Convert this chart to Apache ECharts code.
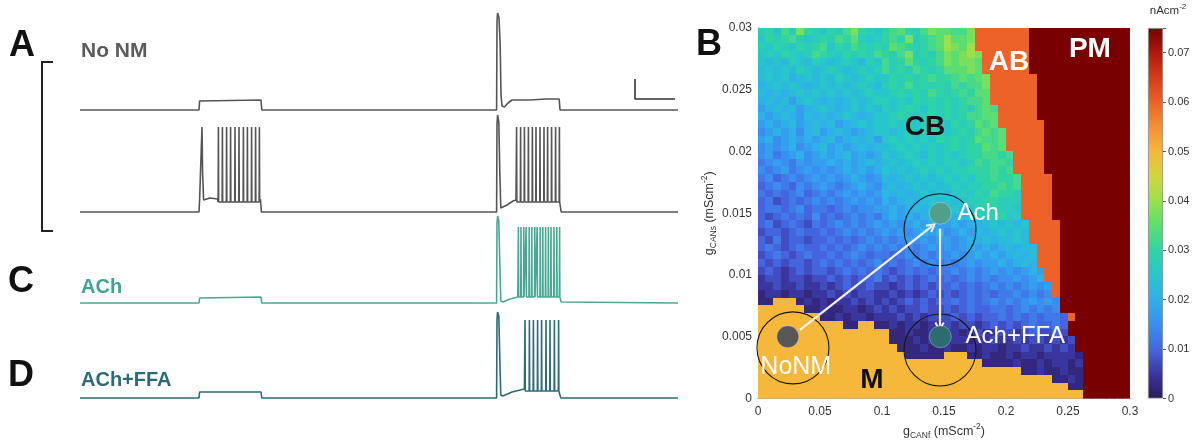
<!DOCTYPE html>
<html><head><meta charset="utf-8">
<script src="https://cdn.jsdelivr.net/npm/echarts@6.0.0/dist/echarts.min.js"></script>
<style>html,body{margin:0;padding:0;background:#fff}#c{width:1200px;height:440px}</style>
</head><body><div id="c"></div>
<script>
// ---------------- DATA ----------------
// Heatmap (panel B): 48 x 48 cells, rows listed top (gCANs high) to bottom.
// 'P' = PM region, 'A' = AB region, 'M' = M region, digits/letters = CB level (x 0.0025 nAcm^-2)
const heatRows = [
"bcadbfcb acbdfcba cdecbdfe eddfAAAA AAAPPPPP PPPPPPPP",
"acbcdbab cbdcebab cdcfbcde geefAAAA AAAPPPPP PPPPPPPP",
"bacbacbc dacbdcbc bedcbcde gfegAAAA AAAPPPPP PPPPPPPP",
"abacbabd cbacbcbd cbdfbcbd fefgfAAA AAAPPPPP PPPPPPPP",
"a9a9ba9b a9aba9ba dbcecbcd feffeAAA AAAPPPPP PPPPPPPP",
"9a9a9ba9 aba9abab dbcbdcbc eeefeAAA AAAPPPPP PPPPPPPP",
"9a9a89a9 a9ba9aba acbcbcdc cdedefAA AAAAPPPP PPPPPPPP",
"89a9a989 a9a9aba9 bcbdbcbc bdcddfAA AAAAPPPP PPPPPPPP",
"98989a9a 9a9a9aba abcbcbdc bcdceeAA AAAAPPPP PPPPPPPP",
"898979a9 8989a9ab babacbcb cbcddeAA AAAAPPPP PPPPPPPP",
"78989789 a989a9a9 babcbacb cbcbdedA AAAAPPPP PPPPPPPP",
"87898798 989a989a abcbabcb cbcddeeA AAAAPPPP PPPPPPPP",
"78789789 89789a9a abababcb acbcedeA AAAAAPPP PPPPPPPP",
"67878689 7898789a a9ababcb abcbdede AAAAAPPP PPPPPPPP",
"78678787 89789897 abababac bcbcedde AAAAAPPP PPPPPPPP",
"67678678 97878989 9abababa bcbccede AAAAAPPP PPPPPPPP",
"67567867 87897878 a9aba9ba babccddc dAAAAPPP PPPPPPPP",
"56765767 78787898 9a9ababa bbabdcdd cAAAAPPP PPPPPPPP",
"65675676 76787878 a9a9abab abbcccdc dAAAAPPP PPPPPPPP",
"56456567 67678767 989a9a9a babaccdc cdAAAAPP PPPPPPPP",
"45654656 76567876 8989a9a9 ababbccd cdAAAAPP PPPPPPPP",
"54545645 65676767 98989a9a 9abacbdc cbAAAAPP PPPPPPPP",
"45345456 56567676 878989a9 a9abbccb bbAAAAPP PPPPPPPP",
"45545645 54565667 78789898 9a9acbcb baAAAAPP PPPPPPPP",
"43454546 45456565 78787898 989abbbc abAAAAPP PPPPPPPP",
"45345435 45656567 67678787 787889a9 a9aAAAAP PPPPPPPP",
"34434544 54565656 76767878 6787989a 9a9AAAAP PPPPPPPP",
"43534434 45454565 65676767 76788989 9a9AAAAP PPPPPPPP",
"45434544 54545656 56565676 76787878 9899AAAP PPPPPPPP",
"34543454 45456545 54565656 67678787 8989AAAP PPPPPPPP",
"43434434 54545456 45456565 65676778 7898AAAP PPPPPPPP",
"34323434 43454545 43454545 56565676 76787AAP PPPPPPPP",
"23323323 34343445 34343454 54565656 67678AAP PPPPPPPP",
"22322322 32343343 32343434 45454565 656767AP PPPPPPPP",
"12212212 23232332 23232343 43454545 565656AP PPPPPPPP",
"11MMM121 21223232 32343434 45454565 6567676P PPPPPPPP",
"MMMMMM11 21122123 23233433 43454455 4565656P PPPPPPPP",
"MMMMMMMM 11212212 22323233 34343445 45454554 APPPPPPP",
"MMMMMMMM MMM11MM1 12122122 32332343 43454454 PPPPPPPP",
"MMMMMMMM MMMMMMMM M1121121 22123223 32343343 PPPPPPPP",
"MMMMMMMM MMMMMMMM M1112121 12212232 23233232 3PPPPPPP",
"MMMMMMMM MMMMMMMM MM111211 21121221 22322323 2PPPPPPP",
"MMMMMMMM MMMMMMMM MMM11111 MMM11211 21221222 21PPPPPP",
"MMMMMMMM MMMMMMMM MMMMMMMM MMMMM111 12112122 12PPPPPP",
"MMMMMMMM MMMMMMMM MMMMMMMM MMMMMMMM MM112112 11PPPPPP",
"MMMMMMMM MMMMMMMM MMMMMMMM MMMMMMMM MMMMMM11 21PPPPPP",
"MMMMMMMM MMMMMMMM MMMMMMMM MMMMMMMM MMMMMMMM 11PPPPPP",
"MMMMMMMM MMMMMMMM MMMMMMMM MMMMMMMM MMMMMMMM MMPPPPPP"
];
const regionValue = {M: 0.05, A: 0.06, P: 0.075};
const cbStep = 0.0025;
const gCANfRange = [0, 0.3];
const gCANsRange = [0, 0.03];
const colorbarRange = [0, 0.075];
const cmap = ['#2d1a5a','#3a36a0','#4565e0','#3a8ef0','#2eb0e8','#27c6cc','#30d4a4','#5ade72',
              '#9be04a','#d2d63a','#f5b83a','#f59030','#ec6228','#d83a1a','#b01810','#780000'];

// Conditions (points), their rings and arrows, in (gCANf, gCANs)
const condNames = ['NoNM', 'Ach', 'Ach+FFA'];
const condX = [0.024, 0.147, 0.147];
const condY = [0.005, 0.015, 0.005];
const ringX = [0.0282, 0.1468, 0.1468];
const ringY = [0.0041, 0.01366, 0.00393];
const arrowFrom = [[0.0339, 0.00555], [0.1464, 0.01374]];
const arrowTo   = [[0.1403, 0.01395], [0.1464, 0.0058]];
const regionNames = ['CB', 'AB', 'PM', 'M'];
const regionX = [0.1347, 0.2024, 0.2677, 0.0919];
const regionY = [0.02197, 0.0272, 0.0283, 0.0015];

// Voltage traces (time ms, membrane potential mV)
const traceNoNM1 = [[0,-70],[595,-70],[598,-61],[905,-60],[909,-70],[2083,-70],[2085,18],[2088,27],[2095,22],
  [2101,-5],[2105,-55],[2110,-66],[2122,-67],[2140,-63],[2160,-60],[2250,-60],[2330,-59],[2396,-59],[2400,-70],[2990,-70]];
const noNM2Pre = [[0,-70],[595,-70],[598,-58],[608,-56],[610,15],[613,-30],[618,-58],[650,-56],[688,-57]];
const noNM2Burst1 = [692,712,733,753,775,795,817,837,858,878,897];
const noNM2Mid = [[902,-57],[907,-70],[2083,-70],[2085,18],[2088,27],[2094,20],[2099,-30],[2104,-66],[2112,-68],[2135,-63],[2165,-59],[2180,-58]];
const noNM2Burst2 = [2183,2203,2222,2242,2262,2280,2300,2320,2338,2358,2378,2397];
const noNM2Post = [[2402,-58],[2406,-70],[2990,-70]];
const noNM2Spike = [15, -60];

const achPre = [[0,-70],[595,-70],[598,-65],[905,-64],[909,-70],[2083,-70],[2085,10],[2088,17],[2094,12],[2099,-30],[2104,-68],[2115,-69],[2150,-66],[2189,-64]];
const achBurst = [2192,2205,2219,2231,2246,2259,2274,2286,2301,2314,2328,2342,2355,2370,2384,2398];
const achPost = [[2402,-66],[2406,-69],[2990,-70]];
const achSpike = [6, -64];

const ffaPre = [[0,-70],[595,-70],[598,-64],[905,-64],[909,-70],[2083,-70],[2085,8],[2088,16],[2094,12],[2099,-30],[2104,-67],[2115,-68],[2160,-64],[2222,-61]];
const ffaBurst = [2225,2247,2267,2288,2308,2330,2350,2372,2393];
const ffaPost = [[2399,-62],[2404,-70],[2990,-70]];
const ffaSpike = [8, -63];

const scaleBarPts = [[2775,-39],[2775,-59],[2975,-59]];
const timeRange = [0, 2990];
const vRange = [-80, 30];

// ---------------- BUILD ----------------
function train(times, sp) {
  const out = [];
  times.forEach(t => { out.push([t-1.2, sp[1]], [t, sp[0]], [t+1.2, sp[1]]); });
  return out;
}
const traces = [
  traceNoNM1,
  noNM2Pre.concat(train(noNM2Burst1, noNM2Spike), noNM2Mid, train(noNM2Burst2, noNM2Spike), noNM2Post),
  achPre.concat(train(achBurst, achSpike), achPost),
  ffaPre.concat(train(ffaBurst, ffaSpike), ffaPost)
];
const traceColors = ['#555555', '#555555', '#4aa796', '#2c6b77'];
const traceTops = [10, 112, 203, 298];

const NR = heatRows.length;
const heatData = [];
let NC = 0;
heatRows.forEach((row, k) => {
  const s = row.replace(/\s/g, '');
  NC = Math.max(NC, s.length);
  const r = NR - 1 - k;
  for (let c = 0; c < s.length; c++) {
    const ch = s[c];
    const v = (ch in regionValue) ? regionValue[ch] : parseInt(ch, 36) * cbStep;
    heatData.push([c, r, v]);
  }
});
const colCats = Array.from({length: NC}, (_, i) => String(i));
const rowCats = Array.from({length: NR}, (_, i) => String(i));

const FONT = '"Liberation Sans", Arial, Helvetica, sans-serif';
const PL = 758, PT = 28, PW = 372, PH = 370.5;

const grids = [
  {left: PL, top: PT, width: PW, height: PH},
  {left: PL, top: PT, width: PW, height: PH},
  {left: 1148, top: PT, width: 15, height: PH}
];
traceTops.forEach(t => grids.push({left: 80, top: t, width: 598, height: 110}));
grids.forEach(g => { g.containLabel = false; g.outerBoundsMode = 'none'; });

const frameColor = '#a4a4bc';
const nameRich = {
  sub: {fontSize: 8.5, verticalAlign: 'bottom', lineHeight: 18, fontFamily: FONT, color: '#333'},
  sup: {fontSize: 8.5, verticalAlign: 'top', lineHeight: 18, fontFamily: FONT, color: '#333'}
};

const xAxes = [
  {type: 'category', gridIndex: 0, data: colCats, show: false},
  {type: 'value', gridIndex: 1, min: gCANfRange[0], max: gCANfRange[1], interval: 0.05,
   axisLine: {show: true, lineStyle: {color: frameColor, width: 1}}, axisTick: {show: false}, splitLine: {show: false},
   axisLabel: {fontSize: 12, color: '#333', margin: 7, fontFamily: FONT},
   name: 'g{sub|CANf} (mScm{sup|-2})', nameLocation: 'middle', nameGap: 21,
   nameTextStyle: {fontSize: 12.5, color: '#333', lineHeight: 18, fontFamily: FONT, rich: nameRich}},
  {type: 'value', gridIndex: 1, position: 'top', min: gCANfRange[0], max: gCANfRange[1],
   axisLine: {show: true, lineStyle: {color: frameColor, width: 1}}, axisTick: {show: false}, axisLabel: {show: false}, splitLine: {show: false}},
  {type: 'category', gridIndex: 2, data: ['cb'], show: false}
];
const yAxes = [
  {type: 'category', gridIndex: 0, data: rowCats, show: false},
  {type: 'value', gridIndex: 1, min: gCANsRange[0], max: gCANsRange[1], interval: 0.005,
   axisLine: {show: true, lineStyle: {color: frameColor, width: 1}}, axisTick: {show: false}, splitLine: {show: false},
   axisLabel: {fontSize: 12, color: '#333', margin: 6, fontFamily: FONT},
   name: 'g{sub|CANs} (mScm{sup|-2})', nameLocation: 'middle', nameGap: 34, nameRotate: 90,
   nameTextStyle: {fontSize: 12.5, color: '#333', lineHeight: 18, fontFamily: FONT, rich: nameRich}},
  {type: 'value', gridIndex: 1, position: 'right', min: gCANsRange[0], max: gCANsRange[1],
   axisLine: {show: true, lineStyle: {color: frameColor, width: 1}}, axisTick: {show: false}, axisLabel: {show: false}, splitLine: {show: false}},
  {type: 'value', gridIndex: 2, position: 'right', min: colorbarRange[0], max: colorbarRange[1], interval: 0.01,
   axisLine: {show: false}, splitLine: {show: false},
   axisTick: {show: true, length: 3, lineStyle: {color: '#555'}},
   axisLabel: {fontSize: 11, color: '#333', margin: 5, fontFamily: FONT,
     formatter: v => (v > 0.0705 ? '' : String(+v.toFixed(3)))},
   name: 'nAcm{sup|-2}', nameLocation: 'end', nameGap: 9,
   nameTextStyle: {fontSize: 11.5, color: '#333', fontFamily: FONT, padding: [0, 0, 0, 10], lineHeight: 16,
     rich: {sup: {fontSize: 8, verticalAlign: 'top', lineHeight: 16, color: '#333', fontFamily: FONT}}}}
];
traceTops.forEach((t, i) => {
  xAxes.push({type: 'value', gridIndex: 3 + i, min: timeRange[0], max: timeRange[1], show: false});
  yAxes.push({type: 'value', gridIndex: 3 + i, min: vRange[0], max: vRange[1], show: false});
});

const gradStops = cmap.map((c, i) => ({offset: i / (cmap.length - 1), color: c}));

const condColors = ['#575757', '#4f9f8a', '#2c6b70'];
const condLabelOffsets = [[8, 30], [38, 0], [75, 0]];
const condLabelSizes = [25, 24, 24];
const regionColors = ['#111', '#fff', '#fff', '#111'];

function renderCell(params, api) {
  const p = api.coord([api.value(0), api.value(1)]);
  const s = api.size([1, 1]);
  const x0 = Math.floor(p[0] - s[0] / 2), x1 = Math.ceil(p[0] + s[0] / 2);
  const y0 = Math.floor(p[1] - s[1] / 2), y1 = Math.ceil(p[1] + s[1] / 2);
  return {type: 'rect', shape: {x: x0, y: y0, width: x1 - x0, height: y1 - y0},
          style: {fill: api.visual('color')}};
}

const series = [
  {type: 'custom', xAxisIndex: 0, yAxisIndex: 0, data: heatData, renderItem: renderCell, silent: true,
   clip: true, encode: {x: 0, y: 1}},
  {type: 'bar', xAxisIndex: 3, yAxisIndex: 3, data: [colorbarRange[1]], barWidth: '100%', silent: true,
   itemStyle: {color: new echarts.graphic.LinearGradient(0, 1, 0, 0, gradStops), borderColor: '#888', borderWidth: 0.8}},
  {type: 'scatter', xAxisIndex: 1, yAxisIndex: 1, silent: true, z: 4, symbol: 'circle', symbolSize: 72,
   data: ringX.map((x, i) => [x, ringY[i]]),
   itemStyle: {color: 'rgba(0,0,0,0)', borderColor: '#161616', borderWidth: 1.1, opacity: 1}},
  {type: 'lines', coordinateSystem: 'cartesian2d', xAxisIndex: 1, yAxisIndex: 1, silent: true, z: 5,
   data: arrowFrom.map((f, i) => ({coords: [f, arrowTo[i]]})),
   lineStyle: {color: '#f2f2f2', width: 2.2, opacity: 1, curveness: 0},
   symbol: ['none', 'path://M5,0 L10,8 L8.4,9.4 L5,3.4 L1.6,9.4 L0,8 Z'], symbolSize: [12, 10]},
  {type: 'scatter', xAxisIndex: 1, yAxisIndex: 1, silent: true, z: 6, symbolSize: 22,
   data: condNames.map((n, i) => ({
     name: n, value: [condX[i], condY[i]],
     itemStyle: {color: condColors[i], borderColor: 'rgba(255,255,255,0.3)', borderWidth: 1, opacity: 1},
     label: {show: true, position: 'inside', offset: condLabelOffsets[i], formatter: '{b}',
       color: '#fff', fontSize: condLabelSizes[i], fontFamily: FONT}
   }))},
  {type: 'scatter', xAxisIndex: 1, yAxisIndex: 1, silent: true, z: 6, symbolSize: 1,
   itemStyle: {color: 'rgba(0,0,0,0)', opacity: 1},
   data: regionNames.map((n, i) => ({
     name: n, value: [regionX[i], regionY[i]],
     label: {show: true, position: 'inside', formatter: '{b}', color: regionColors[i], opacity: 1,
       fontSize: 28, fontWeight: 'bold', fontFamily: FONT}
   }))}
];
traces.forEach((pts, i) => {
  series.push({type: 'line', xAxisIndex: 4 + i, yAxisIndex: 4 + i, data: pts, showSymbol: false, silent: true,
    lineStyle: {color: traceColors[i], width: 1.6}, clip: false});
});
series.push({type: 'line', xAxisIndex: 4, yAxisIndex: 4, data: scaleBarPts, showSymbol: false, silent: true,
  lineStyle: {color: '#333', width: 1.6}});

function txt(x, y, text, size, color, weight) {
  return {type: 'text', x: x, y: y, silent: true, z: 10,
    style: {text: text, fill: color, fontSize: size, fontWeight: weight || 'bold', fontFamily: FONT,
      align: 'left', verticalAlign: 'middle', textAlign: 'left', textVerticalAlign: 'middle'}};
}

const option = {
  animation: false,
  backgroundColor: '#fff',
  textStyle: {fontFamily: FONT},
  grid: grids,
  xAxis: xAxes,
  yAxis: yAxes,
  visualMap: {type: 'continuous', show: false, min: colorbarRange[0], max: colorbarRange[1], seriesIndex: 0,
    dimension: 2, inRange: {color: cmap}},
  graphic: [
    txt(9, 46, 'A', 36, '#111'),
    txt(696, 45, 'B', 36, '#111'),
    txt(8, 282, 'C', 36, '#111'),
    txt(8, 376, 'D', 36, '#111'),
    txt(81, 51, 'No NM', 21, '#5b5b5b'),
    txt(81, 287, 'ACh', 20, '#43a393'),
    txt(81, 380, 'ACh+FFA', 20, '#2c6a76'),
    {type: 'polyline', silent: true, shape: {points: [[53, 62], [42, 62], [42, 231], [53, 231]]},
     style: {stroke: '#222', lineWidth: 2, fill: null}}
  ],
  series: series
};
const chart = echarts.init(document.getElementById('c'));
chart.setOption(option);
</script></body></html>
